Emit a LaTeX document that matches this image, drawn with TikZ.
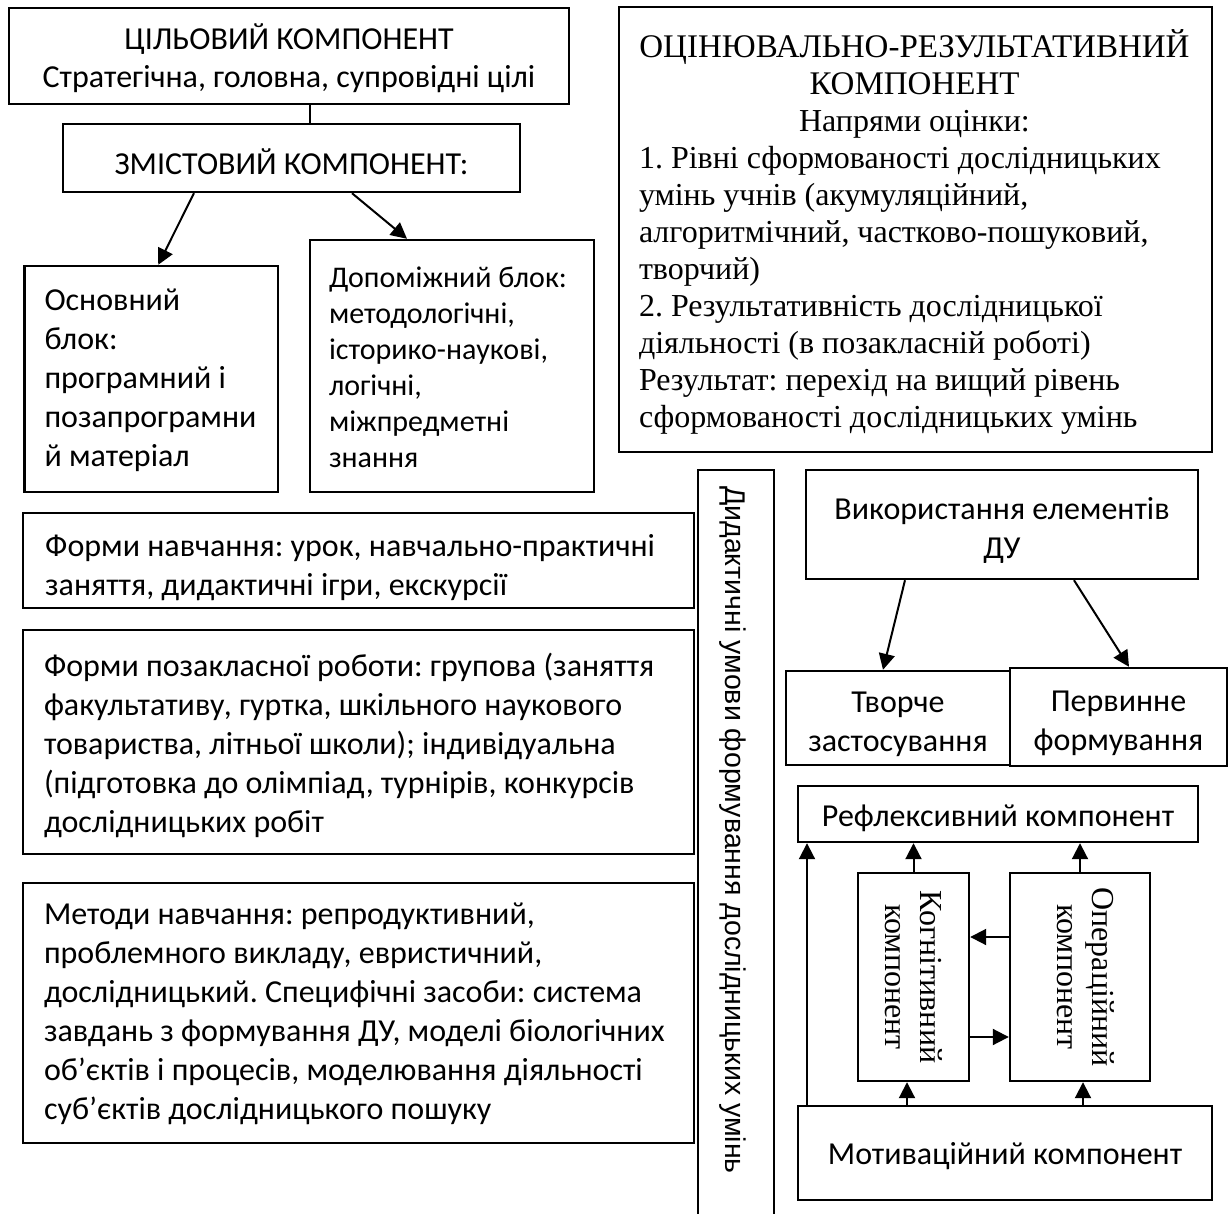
\documentclass[tikz,border=0pt]{standalone}
\usepackage{fontspec}
\setmainfont{Carlito}
\newfontfamily\tnr{Liberation Serif}
\newfontfamily\ars{Liberation Sans}
\usetikzlibrary{arrows.meta,calc}
\begin{document}
\frenchspacing
\begin{tikzpicture}[x=1pt,y=-1pt,
  box/.style={draw, line width=2.4pt, inner sep=0pt, anchor=center},
  txt/.style={font=\fontsize{32}{39}\selectfont},
  ltxt/.style={font=\fontsize{32}{39}\selectfont, anchor=west, align=left, inner sep=0pt},
  vtxt/.style={font=\tnr\fontsize{32}{35}\selectfont, rotate=-90, align=center, inner sep=0pt},
  arr/.style={line width=2pt, -{Triangle[length=16pt,width=16pt]}}]
\useasboundingbox (0,0) rectangle (1232,1214);
\fill[white] (0,0) rectangle (1232,1214);

% left column top
\node[box, minimum width=560pt, minimum height=96pt] (cil) at (289,56) {};
\node[font=\fontsize{32}{38}\selectfont, align=center, anchor=base, inner sep=0pt] (cilt) at (289,88)
  {ЦІЛЬОВИЙ КОМПОНЕНТ\\Стратегічна, головна, супровідні цілі};
\node[box, txt, minimum width=457pt, minimum height=68pt] (zm) at (291.5,158) {};
\node[txt, inner sep=0pt] (zmt) at ([yshift=-4pt]zm.center) {ЗМІСТОВИЙ КОМПОНЕНТ:};
\draw[line width=1.2pt] ([xshift=21pt]cil.south) -- ([xshift=21pt]cil.south |- zm.north);

\node[box, minimum width=253.5pt, minimum height=226pt] (osn) at (151.25,379) {};
\node[ltxt] (osnt) at ([xshift=21pt,yshift=-1pt]osn.west)
  {Основний\\блок:\\програмний і\\позапрограмни\\й матеріал};
\node[box, minimum width=284pt, minimum height=252pt] (dop) at (452,366) {};
\node[ltxt, font=\fontsize{30}{36}\selectfont] (dopt) at ([xshift=20pt,yshift=-1pt]dop.west)
  {Допоміжний блок:\\методологічні,\\історико-наукові,\\логічні,\\міжпредметні\\знання};
\draw[arr] ([xshift=-97.5pt]zm.south) -- ([xshift=7pt]osn.north);
\draw[arr] ([xshift=60.5pt]zm.south) -- ([xshift=-45pt]dop.north);

% evaluation box
\node[box, minimum width=593pt, minimum height=445pt] (oc) at (915.5,229.5) {};
\node[ltxt, font=\tnr\fontsize{32}{37}\selectfont] (oct) at ([xshift=21pt,yshift=-2pt]oc.west)
  {\makebox[551pt][c]{\fontsize{33}{37}\selectfont ОЦІНЮВАЛЬНО-РЕЗУЛЬТАТИВНИЙ}\\
   \makebox[551pt][c]{\fontsize{33}{37}\selectfont КОМПОНЕНТ}\\
   \makebox[551pt][c]{Напрями оцінки:}\\
   1. Рівні сформованості дослідницьких\\
   умінь учнів (акумуляційний,\\
   алгоритмічний, частково-пошуковий,\\
   творчий)\\
   2. Результативність дослідницької\\
   діяльності (в позакласній роботі)\\
   Результат: перехід на вищий рівень\\
   сформованості дослідницьких умінь};

% forms and methods
\node[box, minimum width=671pt, minimum height=95pt] (f1) at (358.5,560.5) {};
\begin{scope}
  \clip ([xshift=2pt,yshift=-2pt]f1.north west) rectangle ([xshift=-2pt,yshift=8pt]f1.south east);
  \node[font=\fontsize{32}{39}\selectfont, align=left, inner sep=0pt, anchor=base west] (f1t) at (45,595)
    {Форми навчання: урок, навчально-практичні\\заняття, дидактичні ігри, екскурсії};
\end{scope}
\node[box, minimum width=671pt, minimum height=224pt] (f2) at (358.5,742) {};
\node[ltxt] (f2t) at ([xshift=22pt,yshift=-3pt]f2.west)
  {Форми позакласної роботи: групова (заняття\\
   факультативу, гуртка, шкільного наукового\\
   товариства, літньої школи); індивідуальна\\
   (підготовка до олімпіад, турнірів, конкурсів\\
   дослідницьких робіт};
\node[box, minimum width=671pt, minimum height=260pt] (f3) at (358.5,1013) {};
\node[ltxt] (f3t) at ([xshift=22pt,yshift=-1pt]f3.west)
  {Методи навчання: репродуктивний,\\
   проблемного викладу, евристичний,\\
   дослідницький. Специфічні засоби: система\\
   завдань з формування ДУ, моделі біологічних\\
   об’єктів і процесів, моделювання діяльності\\
   суб’єктів дослідницького пошуку};

% vertical strip
\node[box, minimum width=76pt, minimum height=760pt] (did) at (736,850) {};
\node[font=\ars\fontsize{28.5}{34}\selectfont, rotate=-90, inner sep=0pt] (didt) at (733,830)
  {Дидактичні умови формування дослідницьких умінь};

% right column
\node[box, minimum width=392pt, minimum height=109pt] (vik) at (1002,524.5) {};
\node[txt, align=center, inner sep=0pt] (vikt) at ([yshift=-6pt]vik.center) {Використання елементів\\ДУ};
\node[box, minimum width=224pt, minimum height=94pt] (tv) at (898,718) {};
\node[txt, align=center, inner sep=0pt] (tvt) at ([yshift=-6pt]tv.center) {Творче\\застосування};
\node[box, minimum width=217pt, minimum height=98pt] (pv) at (1118.5,717) {};
\node[txt, align=center, inner sep=0pt] (pvt) at ([yshift=-6pt]pv.center) {Первинне\\формування};
\draw[arr] ([xshift=-97pt]vik.south) -- ([xshift=-15pt]tv.north);
\draw[arr] ([xshift=72pt]vik.south) -- ([xshift=10.5pt]pv.north);

\node[box, minimum width=400pt, minimum height=56pt] (refl) at (998,814) {};
\node[txt, inner sep=0pt] (reflt) at ([yshift=-4pt]refl.center) {Рефлексивний компонент};
\node[box, minimum width=111pt, minimum height=208pt] (kog) at (913.5,977) {};
\node[vtxt] (kogt) at (kog.center) {Когнітивний\\компонент};
\node[box, minimum width=140pt, minimum height=208pt] (op) at (1080,977) {};
\node[vtxt] (opt) at ([xshift=6pt]op.center) {Операційний\\компонент};
\node[box, minimum width=414pt, minimum height=94pt] (mot) at (1005,1153) {};
\node[txt, inner sep=0pt] (mott) at ([yshift=-3pt]mot.center) {Мотиваційний компонент};

\draw[arr] ([xshift=-198pt]mot.north) -- ([xshift=-198pt]mot.north |- refl.south);
\draw[arr] (kog.north) -- (kog.north |- refl.south);
\draw[arr] (op.north) -- (op.north |- refl.south);
\draw[arr] ([yshift=40pt]op.west) -- ([yshift=40pt]op.west -| kog.east);
\draw[arr] ([yshift=-60pt]kog.east) -- ([yshift=-60pt]kog.east -| op.west);
\draw[arr] ([xshift=-98pt]mot.north) -- ([xshift=-98pt]mot.north |- kog.south);
\draw[arr] ([xshift=78pt]mot.north) -- ([xshift=78pt]mot.north |- op.south);
\end{tikzpicture}
\end{document}
